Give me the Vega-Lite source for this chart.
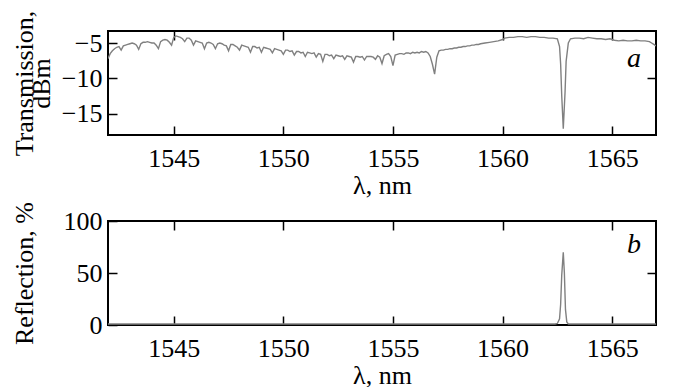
{
  "$schema": "https://vega.github.io/schema/vega-lite/v6.json",
  "padding": {"left": 10, "top": 9, "right": 5, "bottom": 0},
  "background": "white",
  "spacing": 1,
  "config": {
    "font": "Liberation Serif",
    "view": {"stroke": "black", "strokeWidth": 2},
    "axis": {
      "grid": false, "domain": false,
      "labelFont": "Liberation Serif", "titleFont": "Liberation Serif",
      "labelFontSize": 26, "titleFontSize": 26, "titleFontWeight": "normal",
      "labelColor": "black", "titleColor": "black",
      "tickColor": "black", "tickWidth": 1.5, "tickSize": -9
    }
  },
  "datasets": {
    "trans": [
      {"wl":1542.0,"t":-7.2},{"wl":1542.1,"t":-6.5},{"wl":1542.2,"t":-6.1},{"wl":1542.3,"t":-5.8},{"wl":1542.4,"t":-5.6},{"wl":1542.5,"t":-5.5},{"wl":1542.6,"t":-6.0},{"wl":1542.7,"t":-5.4},{"wl":1542.8,"t":-5.3},{"wl":1542.9,"t":-5.2},
      {"wl":1543.0,"t":-5.1},{"wl":1543.1,"t":-5.0},{"wl":1543.2,"t":-5.1},{"wl":1543.3,"t":-5.3},{"wl":1543.4,"t":-5.9},{"wl":1543.5,"t":-5.1},{"wl":1543.6,"t":-4.9},{"wl":1543.7,"t":-4.9},{"wl":1543.8,"t":-4.8},{"wl":1543.9,"t":-4.9},
      {"wl":1544.0,"t":-5.0},{"wl":1544.1,"t":-5.0},{"wl":1544.2,"t":-5.3},{"wl":1544.3,"t":-5.8},{"wl":1544.4,"t":-4.8},{"wl":1544.5,"t":-4.6},{"wl":1544.6,"t":-4.5},{"wl":1544.7,"t":-4.6},{"wl":1544.8,"t":-4.9},{"wl":1544.9,"t":-5.3},
      {"wl":1545.0,"t":-4.2},{"wl":1545.1,"t":-4.0},{"wl":1545.2,"t":-4.1},{"wl":1545.3,"t":-4.2},{"wl":1545.4,"t":-4.4},{"wl":1545.5,"t":-4.8},{"wl":1545.6,"t":-4.3},{"wl":1545.7,"t":-4.3},{"wl":1545.8,"t":-4.6},{"wl":1545.9,"t":-5.3},
      {"wl":1546.0,"t":-4.7},{"wl":1546.1,"t":-4.8},{"wl":1546.2,"t":-4.9},{"wl":1546.3,"t":-5.0},{"wl":1546.4,"t":-5.8},{"wl":1546.5,"t":-5.0},{"wl":1546.6,"t":-4.9},{"wl":1546.7,"t":-5.0},{"wl":1546.8,"t":-5.2},{"wl":1546.9,"t":-5.8},
      {"wl":1547.0,"t":-5.1},{"wl":1547.1,"t":-5.0},{"wl":1547.2,"t":-5.1},{"wl":1547.3,"t":-5.3},{"wl":1547.4,"t":-5.4},{"wl":1547.5,"t":-6.1},{"wl":1547.6,"t":-5.2},{"wl":1547.7,"t":-5.2},{"wl":1547.8,"t":-5.4},{"wl":1547.9,"t":-5.6},
      {"wl":1548.0,"t":-6.0},{"wl":1548.1,"t":-5.3},{"wl":1548.2,"t":-5.4},{"wl":1548.3,"t":-5.5},{"wl":1548.4,"t":-5.6},{"wl":1548.5,"t":-6.3},{"wl":1548.6,"t":-5.5},{"wl":1548.7,"t":-5.5},{"wl":1548.8,"t":-5.7},{"wl":1548.9,"t":-5.6},
      {"wl":1549.0,"t":-6.3},{"wl":1549.1,"t":-5.6},{"wl":1549.2,"t":-5.7},{"wl":1549.3,"t":-5.8},{"wl":1549.4,"t":-5.9},{"wl":1549.5,"t":-6.4},{"wl":1549.6,"t":-5.8},{"wl":1549.7,"t":-5.9},{"wl":1549.8,"t":-6.0},{"wl":1549.9,"t":-6.1},
      {"wl":1550.0,"t":-6.6},{"wl":1550.1,"t":-6.0},{"wl":1550.2,"t":-6.0},{"wl":1550.3,"t":-6.2},{"wl":1550.4,"t":-6.1},{"wl":1550.5,"t":-6.7},{"wl":1550.6,"t":-6.2},{"wl":1550.7,"t":-6.2},{"wl":1550.8,"t":-6.4},{"wl":1550.9,"t":-6.3},
      {"wl":1551.0,"t":-6.9},{"wl":1551.1,"t":-6.3},{"wl":1551.2,"t":-6.4},{"wl":1551.3,"t":-6.5},{"wl":1551.4,"t":-6.4},{"wl":1551.5,"t":-7.0},{"wl":1551.6,"t":-6.5},{"wl":1551.7,"t":-6.6},{"wl":1551.8,"t":-7.6},{"wl":1551.9,"t":-6.6},
      {"wl":1552.0,"t":-6.6},{"wl":1552.1,"t":-6.8},{"wl":1552.2,"t":-6.7},{"wl":1552.3,"t":-7.2},{"wl":1552.4,"t":-6.7},{"wl":1552.5,"t":-6.8},{"wl":1552.6,"t":-6.9},{"wl":1552.7,"t":-6.8},{"wl":1552.8,"t":-7.3},{"wl":1552.9,"t":-6.8},
      {"wl":1553.0,"t":-6.9},{"wl":1553.1,"t":-7.0},{"wl":1553.2,"t":-7.7},{"wl":1553.3,"t":-6.9},{"wl":1553.4,"t":-6.9},{"wl":1553.5,"t":-7.0},{"wl":1553.6,"t":-6.9},{"wl":1553.7,"t":-7.4},{"wl":1553.8,"t":-6.9},{"wl":1553.9,"t":-6.9},
      {"wl":1554.0,"t":-6.9},{"wl":1554.1,"t":-7.0},{"wl":1554.2,"t":-7.3},{"wl":1554.3,"t":-6.8},{"wl":1554.4,"t":-7.0},{"wl":1554.5,"t":-7.9},{"wl":1554.6,"t":-6.8},{"wl":1554.7,"t":-6.6},{"wl":1554.8,"t":-6.5},{"wl":1554.9,"t":-6.9},
      {"wl":1555.0,"t":-8.2},{"wl":1555.1,"t":-6.7},{"wl":1555.2,"t":-6.6},{"wl":1555.3,"t":-6.5},{"wl":1555.4,"t":-6.5},{"wl":1555.5,"t":-6.6},{"wl":1555.6,"t":-6.4},{"wl":1555.7,"t":-6.4},{"wl":1555.8,"t":-6.5},{"wl":1555.9,"t":-6.3},
      {"wl":1556.0,"t":-6.4},{"wl":1556.1,"t":-6.3},{"wl":1556.2,"t":-6.4},{"wl":1556.3,"t":-6.2},{"wl":1556.4,"t":-6.3},{"wl":1556.5,"t":-6.2},{"wl":1556.6,"t":-6.4},{"wl":1556.7,"t":-6.9},{"wl":1556.8,"t":-8.0},{"wl":1556.9,"t":-9.4},
      {"wl":1557.0,"t":-7.0},{"wl":1557.1,"t":-6.1},{"wl":1557.2,"t":-6.0},{"wl":1557.3,"t":-6.0},{"wl":1557.4,"t":-5.9},{"wl":1557.5,"t":-5.9},{"wl":1557.6,"t":-5.8},{"wl":1557.7,"t":-5.8},{"wl":1557.8,"t":-5.7},{"wl":1557.9,"t":-5.7},
      {"wl":1558.0,"t":-5.6},{"wl":1558.1,"t":-5.6},{"wl":1558.2,"t":-5.5},{"wl":1558.3,"t":-5.5},{"wl":1558.4,"t":-5.4},{"wl":1558.5,"t":-5.4},{"wl":1558.6,"t":-5.3},{"wl":1558.7,"t":-5.3},{"wl":1558.8,"t":-5.2},{"wl":1558.9,"t":-5.2},
      {"wl":1559.0,"t":-5.1},{"wl":1559.2,"t":-5.0},{"wl":1559.4,"t":-4.9},{"wl":1559.6,"t":-4.8},{"wl":1559.8,"t":-4.7},{"wl":1560.0,"t":-4.5},{"wl":1560.1,"t":-4.3},{"wl":1560.3,"t":-4.2},{"wl":1560.5,"t":-4.2},{"wl":1560.7,"t":-4.1},
      {"wl":1560.9,"t":-4.1},{"wl":1561.1,"t":-4.2},{"wl":1561.3,"t":-4.1},{"wl":1561.5,"t":-4.1},{"wl":1561.7,"t":-4.2},{"wl":1561.9,"t":-4.2},{"wl":1562.1,"t":-4.3},{"wl":1562.3,"t":-4.3},{"wl":1562.5,"t":-4.4},{"wl":1562.6,"t":-5.5},
      {"wl":1562.65,"t":-8.0},{"wl":1562.7,"t":-12.5},{"wl":1562.77,"t":-17.1},{"wl":1562.85,"t":-12.0},{"wl":1562.9,"t":-7.6},{"wl":1563.0,"t":-5.0},{"wl":1563.1,"t":-4.4},{"wl":1563.3,"t":-4.3},{"wl":1563.5,"t":-4.3},{"wl":1563.7,"t":-4.4},
      {"wl":1563.9,"t":-4.2},{"wl":1564.1,"t":-4.3},{"wl":1564.3,"t":-4.4},{"wl":1564.5,"t":-4.4},{"wl":1564.7,"t":-4.5},{"wl":1564.9,"t":-4.4},{"wl":1565.1,"t":-4.6},{"wl":1565.3,"t":-4.7},{"wl":1565.5,"t":-4.6},{"wl":1565.7,"t":-4.7},
      {"wl":1565.9,"t":-4.7},{"wl":1566.1,"t":-4.6},{"wl":1566.3,"t":-4.7},{"wl":1566.5,"t":-4.7},{"wl":1566.7,"t":-4.8},{"wl":1566.8,"t":-5.0},{"wl":1566.9,"t":-5.2},{"wl":1567.0,"t":-5.4}
    ],
    "refl": [
      {"wl":1542.0,"r":1.0},{"wl":1545.0,"r":1.0},{"wl":1550.0,"r":1.0},{"wl":1555.0,"r":1.0},{"wl":1560.0,"r":1.0},{"wl":1562.4,"r":1.0},{"wl":1562.5,"r":1.5},{"wl":1562.6,"r":6},{"wl":1562.65,"r":20},{"wl":1562.7,"r":48},{"wl":1562.77,"r":70},{"wl":1562.82,"r":50},{"wl":1562.87,"r":15},{"wl":1562.93,"r":3},{"wl":1563.0,"r":1.0},{"wl":1565.0,"r":1.0},{"wl":1567.0,"r":1.0}
    ],
    "labA": [{"wl":1566.0,"v":-8.35,"lab":"a"}],
    "labB": [{"wl":1566.0,"v":69,"lab":"b"}]
  },
  "vconcat": [
    {
      "width": 548, "height": 104,
      "resolve": {"axis": {"x": "independent", "y": "independent"}},
      "layer": [
        {
          "data": {"name": "trans"},
          "mark": {"type": "line", "color": "#808080", "strokeWidth": 1.4, "clip": true},
          "encoding": {
            "x": {"field": "wl", "type": "quantitative", "scale": {"domain": [1542, 1567], "nice": false, "zero": false},
                  "axis": {"orient": "bottom", "values": [1545,1550,1555,1560,1565], "format": "d", "labelPadding": 19, "title": "λ, nm", "titlePadding": 1}},
            "y": {"field": "t", "type": "quantitative", "scale": {"domain": [-18, -3.3], "nice": false, "zero": false},
                  "axis": {"orient": "left", "values": [-15,-10,-5], "labelPadding": 15, "title": ["Transmission,", "dBm"], "titleLineHeight": 17, "titlePadding": 7}}
          }
        },
        {
          "data": {"name": "trans"},
          "mark": {"type": "line", "opacity": 0},
          "encoding": {
            "x": {"field": "wl", "type": "quantitative", "axis": {"orient": "top", "values": [1545,1550,1555,1560,1565], "labels": false, "title": null}},
            "y": {"field": "t", "type": "quantitative", "axis": {"orient": "right", "values": [-10], "labels": false, "title": null}}
          }
        },
        {
          "data": {"name": "labA"},
          "mark": {"type": "text", "fontStyle": "italic", "fontSize": 28, "font": "Liberation Serif", "color": "black", "baseline": "alphabetic", "align": "center"},
          "encoding": {
            "x": {"field": "wl", "type": "quantitative", "axis": null},
            "y": {"field": "v", "type": "quantitative", "axis": null},
            "text": {"field": "lab"}
          }
        }
      ]
    },
    {
      "width": 548, "height": 104,
      "resolve": {"axis": {"x": "independent", "y": "independent"}},
      "layer": [
        {
          "data": {"name": "refl"},
          "mark": {"type": "line", "color": "#808080", "strokeWidth": 1.4, "clip": true},
          "encoding": {
            "x": {"field": "wl", "type": "quantitative", "scale": {"domain": [1542, 1567], "nice": false, "zero": false},
                  "axis": {"orient": "bottom", "values": [1545,1550,1555,1560,1565], "format": "d", "labelPadding": 19, "title": "λ, nm", "titlePadding": 1}},
            "y": {"field": "r", "type": "quantitative", "scale": {"domain": [0, 100], "nice": false},
                  "axis": {"orient": "left", "values": [0,50,100], "labelPadding": 15, "title": "Reflection, %", "titlePadding": 26}}
          }
        },
        {
          "data": {"name": "refl"},
          "mark": {"type": "line", "opacity": 0},
          "encoding": {
            "x": {"field": "wl", "type": "quantitative", "axis": {"orient": "top", "values": [1545,1550,1555,1560,1565], "labels": false, "title": null}},
            "y": {"field": "r", "type": "quantitative", "axis": {"orient": "right", "values": [50], "labels": false, "title": null}}
          }
        },
        {
          "data": {"name": "labB"},
          "mark": {"type": "text", "fontStyle": "italic", "fontSize": 28, "font": "Liberation Serif", "color": "black", "baseline": "alphabetic", "align": "center"},
          "encoding": {
            "x": {"field": "wl", "type": "quantitative", "axis": null},
            "y": {"field": "v", "type": "quantitative", "axis": null},
            "text": {"field": "lab"}
          }
        }
      ]
    }
  ]
}
